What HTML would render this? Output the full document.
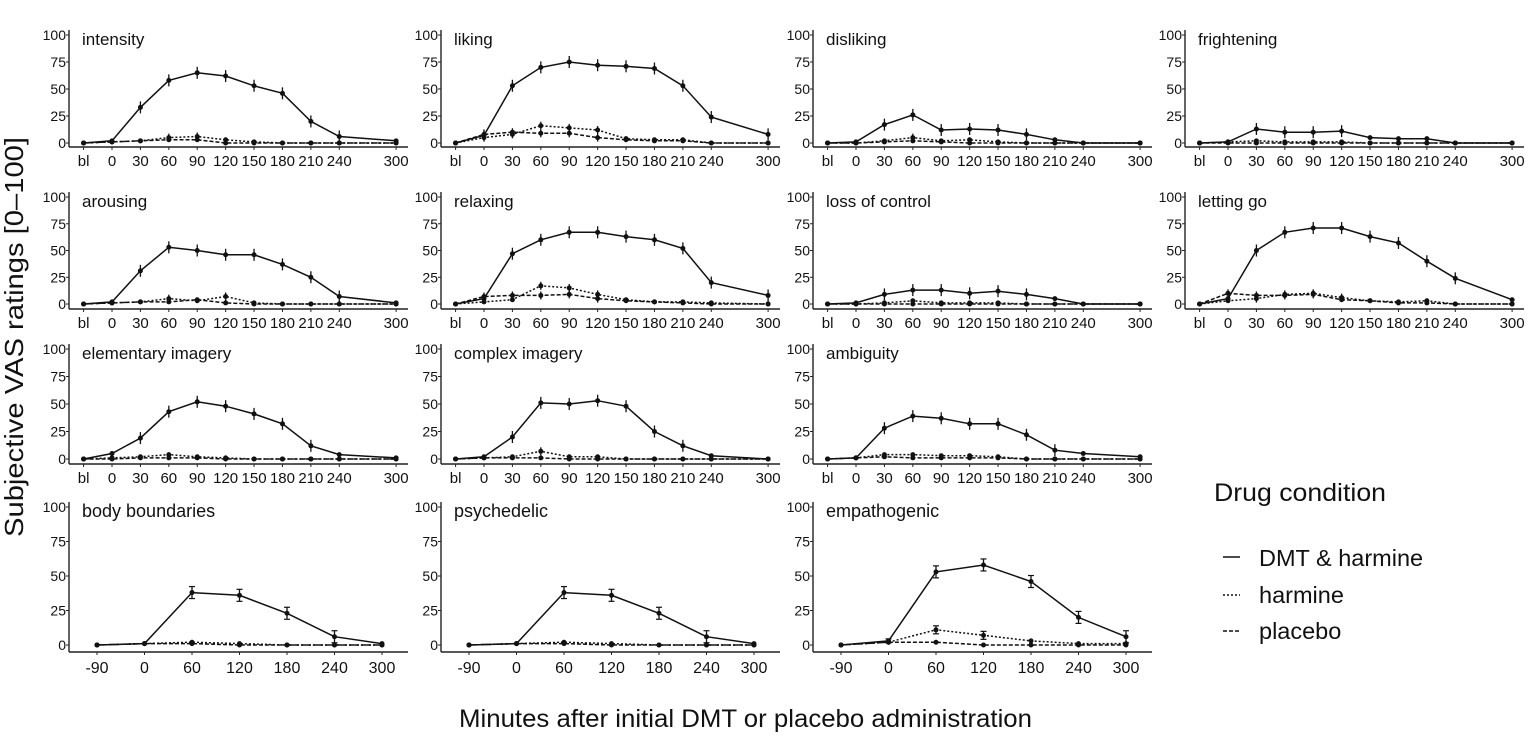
<!DOCTYPE html>
<html><head><meta charset="utf-8"><style>
html,body{margin:0;padding:0;background:#fff;}
svg{display:block;font-family:"Liberation Sans",sans-serif;}
</style></head><body>
<svg id="s" width="1535" height="736" viewBox="0 0 1535 736" xmlns="http://www.w3.org/2000/svg">
<text x="14" y="337" transform="rotate(-90 14 337)" text-anchor="middle" dominant-baseline="central" font-size="26" textLength="400" lengthAdjust="spacingAndGlyphs" fill="#111">Subjective VAS ratings [0–100]</text>
<text x="459" y="727" font-size="25" textLength="573" lengthAdjust="spacingAndGlyphs" fill="#111">Minutes after initial DMT or placebo administration</text>
<text x="1214" y="501" font-size="25" textLength="172" lengthAdjust="spacingAndGlyphs" fill="#111">Drug condition</text>
<line x1="1223" y1="557" x2="1240" y2="557" stroke="#111" stroke-width="1.5"/>
<line x1="1223" y1="595" x2="1240" y2="595" stroke="#111" stroke-width="1.5" stroke-dasharray="2,2"/>
<line x1="1223" y1="631" x2="1240" y2="631" stroke="#111" stroke-width="1.5" stroke-dasharray="4,2"/>
<text x="1259" y="566" font-size="23.5" fill="#111">DMT &amp; harmine</text>
<text x="1259" y="603" font-size="23.5" fill="#111">harmine</text>
<text x="1259" y="639" font-size="23.5" fill="#111">placebo</text>
</svg>
<script>
var S=document.getElementById('s'),NS='http://www.w3.org/2000/svg';
function el(t,a,txt){var e=document.createElementNS(NS,t);for(var k in a)e.setAttribute(k,a[k]);if(txt!=null)e.textContent=txt;S.appendChild(e);return e;}
var cols=[69,441,813,1185];
var rows=[{t:35,z:143,ax:147},{t:197,z:304,ax:309},{t:349,z:459,ax:464},{t:507,z:645,ax:652}];
var T1=['bl','0','30','60','90','120','150','180','210','240','300'],X1=[-30,0,30,60,90,120,150,180,210,240,300];
var T4=['-90','0','60','120','180','240','300'];
var P=[
['intensity',0,0,[0,2,33,58,65,62,53,46,20,6,2],[0,1,2,5,6,3,1,0,0,0,0],[0,1,2,3,3,0,0,0,0,0,0]],
['liking',0,1,[0,7,53,70,75,72,71,69,53,24,8],[0,5,8,16,14,12,4,3,3,0,0],[0,8,10,9,9,5,3,2,2,0,0]],
['disliking',0,2,[0,1,17,26,12,13,12,8,3,0,0],[0,0,2,5,2,3,1,0,0,0,0],[0,0,1,2,1,0,0,0,0,0,0]],
['frightening',0,3,[0,1,13,10,10,11,5,4,4,0,0],[0,1,2,1,1,1,0,0,0,0,0],[0,0,0,0,0,0,0,0,0,0,0]],
['arousing',1,0,[0,2,31,53,50,46,46,37,25,7,1],[0,1,2,5,3,7,1,0,0,0,0],[0,1,2,2,4,1,0,0,0,0,0]],
['relaxing',1,1,[0,5,47,60,67,67,63,60,52,20,8],[0,2,4,17,15,9,4,2,2,1,0],[0,7,8,8,9,5,3,2,1,0,0]],
['loss of control',1,2,[0,1,9,13,13,10,12,9,5,0,0],[0,0,1,3,1,1,1,0,0,0,0],[0,0,0,0,0,0,0,0,0,0,0]],
['letting go',1,3,[0,5,50,67,71,71,63,57,40,24,4],[0,3,5,9,10,6,3,2,3,0,0],[0,10,8,8,9,4,3,1,1,0,0]],
['elementary imagery',2,0,[0,5,19,43,52,48,41,32,12,4,1],[0,1,2,4,2,1,0,0,0,0,0],[0,0,1,1,1,0,0,0,0,0,0]],
['complex imagery',2,1,[0,2,20,51,50,53,48,25,12,3,0],[0,1,2,7,2,2,0,0,0,0,0],[0,1,1,1,0,0,0,0,0,0,0]],
['ambiguity',2,2,[0,1,28,39,37,32,32,22,8,5,2],[0,1,4,4,3,3,2,0,0,0,0],[0,1,2,1,1,1,1,0,0,0,0]],
['body boundaries',3,0,[0,1,38,36,23,6,1],[0,1,2,1,0,0,0],[0,1,1,0,0,0,0]],
['psychedelic',3,1,[0,1,38,36,23,6,1],[0,1,2,1,0,0,0],[0,1,1,0,0,0,0]],
['empathogenic',3,2,[0,3,53,58,46,20,6],[0,2,11,7,3,1,1],[0,2,2,0,0,0,0]]
];
P.forEach(function(p){
 var r=rows[p[1]],L=cols[p[2]],R=L+339,last=p[1]==3;
 var ys=function(v){return r.z-(r.z-r.t)*v/100;};
 var xs=last?function(i){return L+28+i*47.5;}:function(i){return L+43+X1[i]*0.947;};
 el('line',{x1:L,y1:r.t-5,x2:L,y2:r.ax,stroke:'#222','stroke-width':1.4});
 el('line',{x1:L,y1:r.ax,x2:R,y2:r.ax,stroke:'#222','stroke-width':1.4});
 [0,25,50,75,100].forEach(function(v){var y=ys(v);
  el('line',{x1:L-3,y1:y,x2:L,y2:y,stroke:'#222','stroke-width':1});
  el('text',{x:L-3,y:y+5,'font-size':14,'text-anchor':'end',fill:'#111'},v);});
 var labs=last?T4:T1;
 labs.forEach(function(t,i){var x=xs(i);
  el('line',{x1:x,y1:r.ax,x2:x,y2:r.ax+3,stroke:'#222','stroke-width':1});
  el('text',{x:x,y:r.ax+(last?21:19),'font-size':last?16:15,'text-anchor':'middle',fill:'#111'},t);});
 el('text',{x:L+13,y:r.t+(last?10:10),'font-size':last?18:17,fill:'#111'},p[0]);
 [[p[5],'4,2'],[p[4],'2,2'],[p[3],'']].forEach(function(s,k){
  var d=s[0],pts=d.map(function(v,i){return xs(i).toFixed(1)+','+ys(v).toFixed(1);}).join(' ');
  var a={points:pts,fill:'none',stroke:'#111','stroke-width':1.5};if(s[1])a['stroke-dasharray']=s[1];
  el('polyline',a);
  d.forEach(function(v,i){var x=xs(i),y=ys(v);
   var e=(k==2)?(v>5?6:(v>1?2:0)):(v>4?4:0);
   if(e){el('line',{x1:x,y1:y-e,x2:x,y2:y+e,stroke:'#111','stroke-width':1.3});
    if(last){el('line',{x1:x-3,y1:y-e,x2:x+3,y2:y-e,stroke:'#111','stroke-width':1.2});el('line',{x1:x-3,y1:y+e,x2:x+3,y2:y+e,stroke:'#111','stroke-width':1.2});}}
   el('circle',{cx:x,cy:y,r:2.5,fill:'#111'});});
 });
});
</script>
</body></html>
